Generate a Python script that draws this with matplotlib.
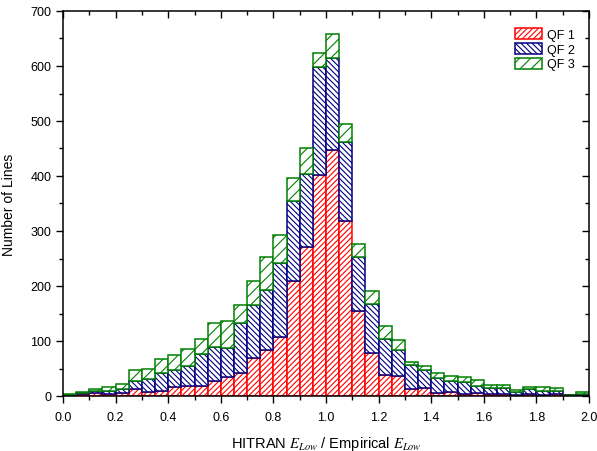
import numpy as np
import matplotlib
matplotlib.use("Agg")
import matplotlib.pyplot as plt
from matplotlib.ticker import MultipleLocator

plt.rcParams['font.family'] = ['Liberation Sans', 'DejaVu Sans']
plt.rcParams['mathtext.fontset'] = 'stix'
plt.rcParams['hatch.linewidth'] = 0.8

# histogram bins (E ratio), width 0.05 from 0 to 2
bin_edges = np.linspace(0.0, 2.0, 41)

# counts per bin for each quality flag
qf1 = [1, 3, 5, 3, 5, 12, 7, 10, 16, 19, 19, 28, 34, 42, 69, 84, 107, 210, 271, 402,
       447, 318, 155, 78, 38, 36, 13, 15, 5, 7, 4, 6, 3, 3, 2, 3, 2, 3, 1, 2]
qf2 = [1, 2, 5, 7, 7, 16, 24, 31, 31, 35, 58, 62, 53, 91, 96, 108, 134, 144, 133, 196,
       167, 144, 97, 89, 66, 48, 43, 32, 28, 20, 22, 13, 11, 12, 5, 9, 7, 6, 0, 2]
qf3 = [1, 3, 3, 6, 10, 20, 18, 27, 28, 32, 26, 43, 49, 33, 45, 61, 51, 43, 47, 26,
       45, 33, 25, 24, 23, 18, 6, 8, 9, 9, 8, 10, 6, 5, 4, 4, 8, 5, 1, 4]

labels = ["QF 1", "QF 2", "QF 3"]
colors = ["#FF0000", "#000080", "#008000"]
hatches = ["//////", "\\\\\\\\\\\\", "///"]

fig = plt.figure(figsize=(5.97, 4.52), dpi=100)
ax = fig.add_axes([63 / 597, 1 - 397 / 452, 526 / 597, 385 / 452])

left = bin_edges[:-1]
width = np.diff(bin_edges)
bottom = np.zeros(len(left))
for vals, lab, col, h in zip([qf1, qf2, qf3], labels, colors, hatches):
    vals = np.array(vals, dtype=float)
    ax.bar(left, vals, width=width, bottom=bottom, align='edge', facecolor='white',
           edgecolor=col, hatch=h, linewidth=1.1, label=lab)
    bottom += vals

ax.set_xlim(0, 2.0)
ax.set_ylim(0, 700)
ax.xaxis.set_major_locator(MultipleLocator(0.2))
ax.xaxis.set_minor_locator(MultipleLocator(0.1))
ax.yaxis.set_major_locator(MultipleLocator(100))
ax.yaxis.set_minor_locator(MultipleLocator(50))
ax.xaxis.set_major_formatter(plt.FuncFormatter(lambda v, p: f"{v:.1f}"))

ax.tick_params(axis='both', which='both', labelsize=9, width=1)
ax.tick_params(axis='x', which='major', pad=6)
ax.tick_params(axis='both', which='major', length=5)
ax.tick_params(axis='both', which='minor', length=3)
ax.tick_params(top=True, right=True, which='both')
for sp in ax.spines.values():
    sp.set_linewidth(1.1)

# top/right ticks point inward, bottom/left outward
for t in ax.xaxis.get_major_ticks() + ax.xaxis.get_minor_ticks():
    t.tick2line.set_marker(3)
for t in ax.yaxis.get_major_ticks() + ax.yaxis.get_minor_ticks():
    t.tick2line.set_marker(0)

ax.set_xlabel(r"HITRAN $\mathit{E}_{\mathit{Low}}$ / Empirical $\mathit{E}_{\mathit{Low}}$",
              fontsize=10.5, labelpad=8)
ax.set_ylabel("Number of Lines", fontsize=10, labelpad=10)

ax.legend(loc='upper right', bbox_to_anchor=(0.995, 0.985), frameon=False, fontsize=9,
          handlelength=2.2, handleheight=1.0, handletextpad=0.4, labelspacing=0.15)

fig.savefig("out.png", dpi=100)
